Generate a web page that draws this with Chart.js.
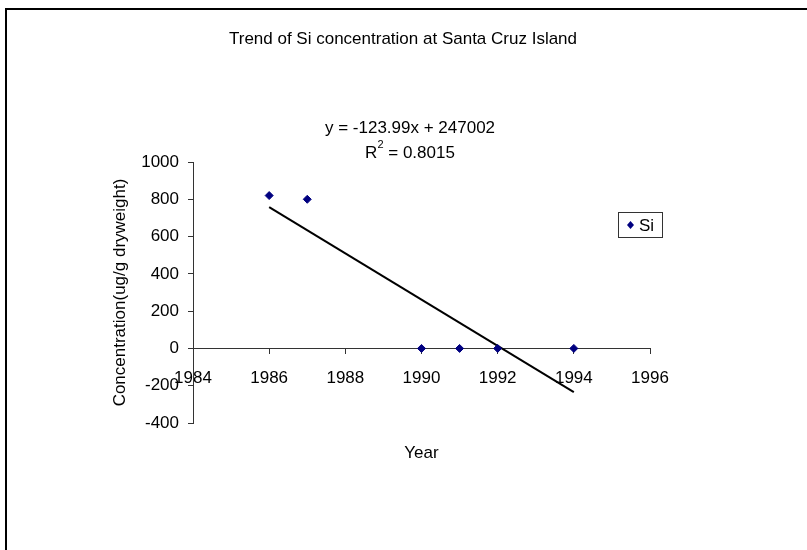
<!DOCTYPE html>
<html>
<head>
<meta charset="utf-8">
<script src="https://cdn.jsdelivr.net/npm/chart.js@4.4.1/dist/chart.umd.min.js"></script>
<style>
  html, body { margin: 0; padding: 0; background: #fff; }
  #wrap { width: 807px; height: 550px; }
</style>
</head>
<body>
<div id="wrap"><canvas id="siChart" width="807" height="550"></canvas></div>
<script>
const FONT = "'Liberation Sans', Arial, sans-serif";

// data
const years = [1986, 1987, 1990, 1991, 1992, 1994];
const siValues = [820, 800, 0, 0, 0, 0];

// trendline end points (as drawn in the reference)
const trendYears = [1986, 1994];
const trendValues = [758, -234];

const chartTitle = "Trend of Si concentration at Santa Cruz Island";
const trendEquation = "y = -123.99x + 247002";
const trendR2 = "0.8015";

const xTicks = { min: 1984, max: 1996, step: 2 };
const yTicks = { min: -400, max: 1000, step: 200 };

const siPoints = years.map((x, i) => ({ x: x, y: siValues[i] }));
const trendPoints = trendYears.map((x, i) => ({ x: x, y: trendValues[i] }));

// frame, title, equation, x title and legend box
const extrasPlugin = {
    id: 'extras',
    afterDraw(chart) {
        const ctx = chart.ctx;
        const area = chart.chartArea;
        ctx.save();

        // outer frame
        ctx.strokeStyle = '#000';
        ctx.lineWidth = 2;
        ctx.beginPath();
        ctx.moveTo(812, 9);
        ctx.lineTo(6, 9);
        ctx.lineTo(6, 560);
        ctx.stroke();

        ctx.fillStyle = '#000';
        ctx.font = '17px ' + FONT;
        ctx.textAlign = 'center';
        ctx.textBaseline = 'middle';

        // chart title, centred on the page
        ctx.fillText(chartTitle, 403, 39);

        // trendline label
        const cx = area.left + 217;
        ctx.fillText(trendEquation, cx, 128);
        const rest = " = " + trendR2;
        const wR = ctx.measureText("R").width;
        ctx.font = '11px ' + FONT;
        const w2 = ctx.measureText("2").width;
        ctx.font = '17px ' + FONT;
        const wRest = ctx.measureText(rest).width;
        let sx = cx - (wR + w2 + wRest) / 2;
        ctx.textAlign = 'left';
        ctx.fillText("R", sx, 153);
        ctx.font = '11px ' + FONT;
        ctx.fillText("2", sx + wR, 145);
        ctx.font = '17px ' + FONT;
        ctx.fillText(rest, sx + wR + w2, 153);

        // x axis title
        ctx.textAlign = 'center';
        ctx.fillText("Year", (area.left + area.right) / 2, 453);

        // legend
        ctx.strokeStyle = '#333';
        ctx.lineWidth = 1;
        ctx.strokeRect(618.5, 212.5, 44, 25);
        ctx.fillStyle = '#000080';
        ctx.beginPath();
        ctx.moveTo(630.5, 221);
        ctx.lineTo(634, 225);
        ctx.lineTo(630.5, 229);
        ctx.lineTo(627, 225);
        ctx.closePath();
        ctx.fill();
        ctx.fillStyle = '#000';
        ctx.textAlign = 'left';
        ctx.fillText("Si", 639, 226);

        ctx.restore();
    }
};

new Chart(document.getElementById('siChart'), {
    type: 'scatter',
    data: {
        datasets: [{
            label: 'Si',
            data: siPoints,
            backgroundColor: '#000080',
            borderColor: '#000080',
            pointStyle: 'rectRot',
            pointRadius: 4,
            pointHoverRadius: 4,
            order: 1
        }, {
            type: 'line',
            label: 'trend',
            data: trendPoints,
            borderColor: '#000',
            borderWidth: 2,
            pointRadius: 0,
            fill: false,
            order: 2
        }]
    },
    options: {
        responsive: false,
        animation: false,
        layout: {
            padding: { left: 100, right: 157, top: 162, bottom: 127 }
        },
        scales: {
            x: {
                type: 'linear',
                position: { y: 0 },
                min: xTicks.min,
                max: xTicks.max,
                ticks: {
                    stepSize: xTicks.step,
                    color: '#000',
                    padding: 15,
                    font: { family: FONT, size: 17 },
                    callback: v => String(v)
                },
                grid: { drawOnChartArea: false, drawTicks: true, tickLength: 5, color: '#333' },
                border: { color: '#333', width: 1 }
            },
            y: {
                position: 'left',
                min: yTicks.min,
                max: yTicks.max,
                ticks: {
                    stepSize: yTicks.step,
                    color: '#000',
                    padding: 9,
                    font: { family: FONT, size: 17 },
                    callback: v => String(v)
                },
                grid: { drawOnChartArea: false, drawTicks: true, tickLength: 5, color: '#333' },
                border: { color: '#333', width: 1 },
                title: {
                    display: true,
                    text: 'Concentration(ug/g dryweight)',
                    color: '#000',
                    font: { family: FONT, size: 17 },
                    padding: { top: 10, bottom: 0 }
                },
                afterFit(scale) { scale.width = 93; }
            }
        },
        plugins: {
            legend: { display: false },
            tooltip: { enabled: false },
            title: { display: false }
        }
    },
    plugins: [extrasPlugin]
});
</script>
</body>
</html>
